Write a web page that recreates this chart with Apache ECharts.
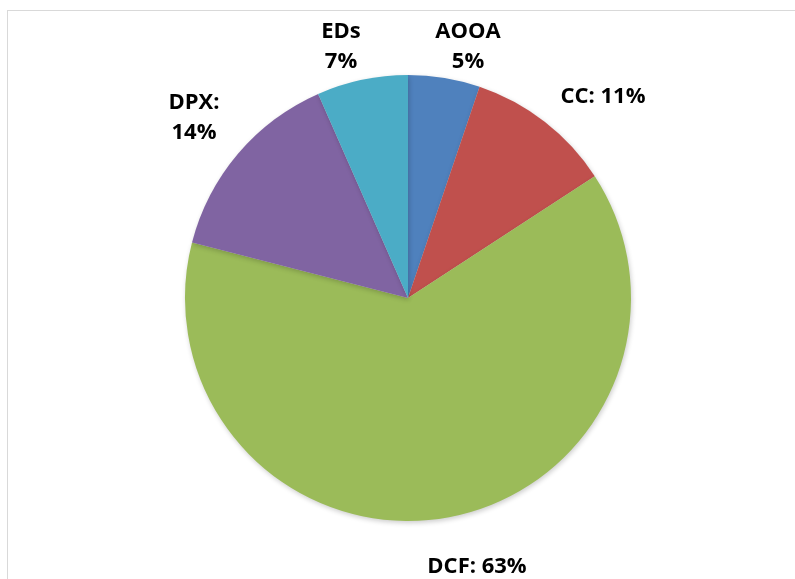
<!DOCTYPE html>
<html>
<head>
<meta charset="utf-8">
<script src="https://cdn.jsdelivr.net/npm/echarts@6/dist/echarts.min.js"></script>
<style>
html,body{margin:0;padding:0;background:#fff;overflow:hidden;}
#frame{position:absolute;left:7px;top:10px;width:900px;height:700px;border:1.5px solid #d9d9d9;box-sizing:border-box;}
#chart{position:absolute;left:0;top:0;width:795px;height:579px;}
</style>
</head>
<body>
<div id="frame"></div>
<div id="chart"></div>
<script>
var categories = ["AOOA", "CC", "DCF", "DPX", "EDs"];
var values = [5.2, 10.6, 63.2, 14.4, 6.6];
var separators = ["\n", ": ", ": ", ":\n", "\n"];
var colors = ["#4F81BD", "#C0504D", "#9BBB59", "#8064A2", "#4BACC6"];
var labelPos = [[468, 47], [603, 97], [477, 567], [194, 118], [341, 47]];

var chart = echarts.init(document.getElementById('chart'));
chart.setOption({
  animation: false,
  series: [{
    type: 'pie',
    center: [408, 298],
    radius: 223,
    startAngle: 90,
    clockwise: true,
    data: categories.map(function (c, i) {
      return { name: c, value: values[i], itemStyle: { color: colors[i] } };
    }),
    itemStyle: {
      shadowBlur: 5,
      shadowColor: 'rgba(0,0,0,0.2)',
      shadowOffsetX: 1,
      shadowOffsetY: 2
    },
    label: {
      show: true,
      position: 'outside',
      fontFamily: 'Open Sans',
      fontWeight: 'bold',
      fontSize: 22,
      lineHeight: 30,
      color: '#000',
      align: 'center',
      formatter: function (p) {
        return p.name + separators[p.dataIndex] + Math.round(p.percent) + '%';
      }
    },
    labelLine: { show: false },
    labelLayout: function (p) {
      var pos = labelPos[p.dataIndex];
      return { x: pos[0], y: pos[1], align: 'center', verticalAlign: 'middle' };
    },
    emphasis: { disabled: true }
  }]
});
</script>
</body>
</html>
